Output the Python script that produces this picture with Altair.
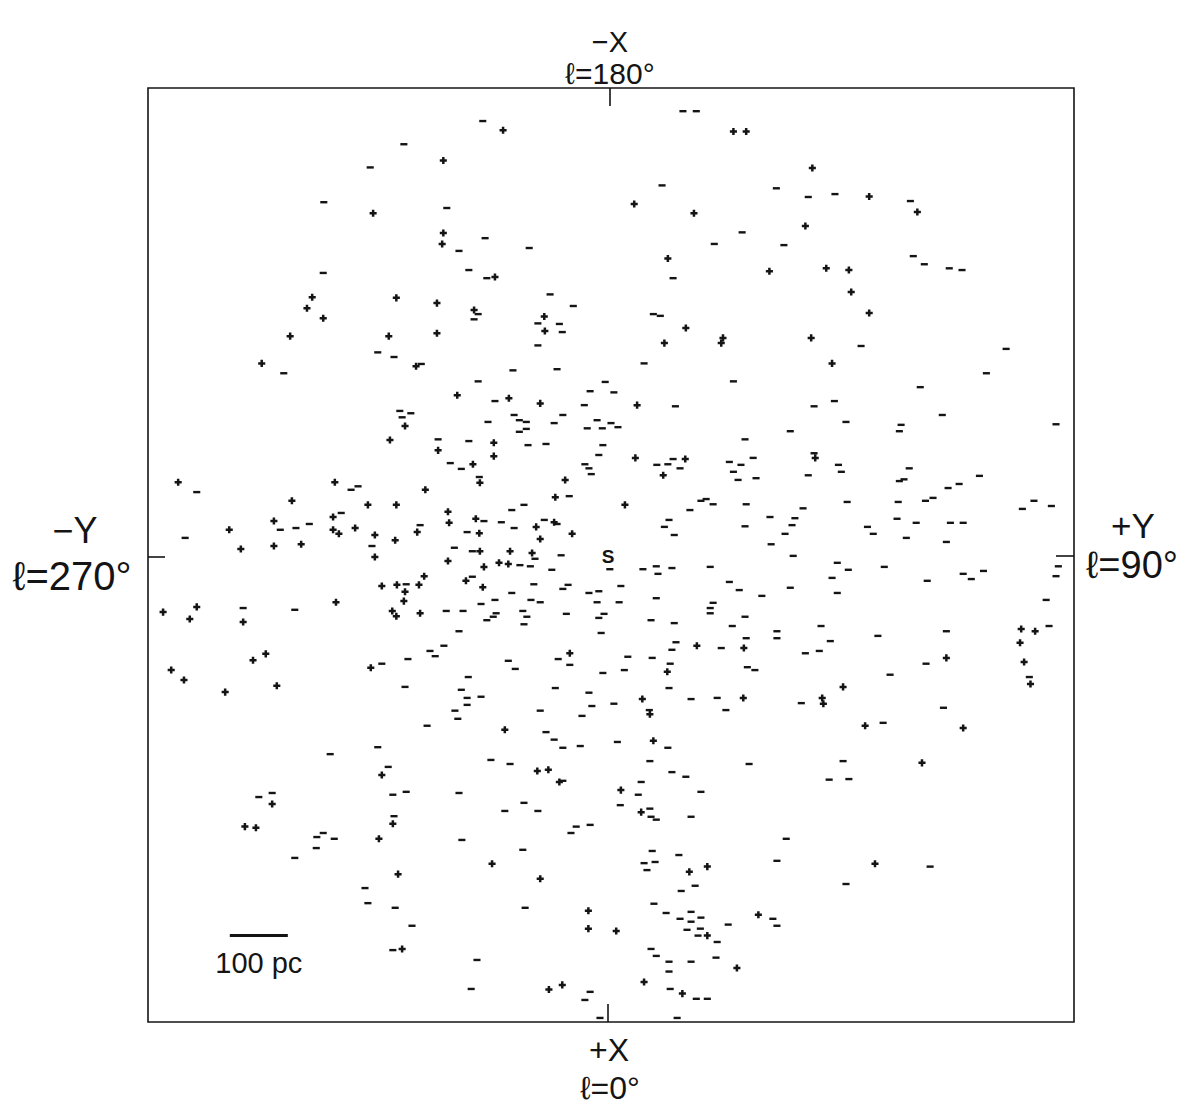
import altair as alt
import pandas as pd

# Positions in the galactic plane, pc (Y horizontal: +Y toward l=90; X vertical: +X toward l=0)
plus_Y = [-405, -510, -519, -491, -548, -597,
          -181, -284, -284, -286, -195, -365, -295, -231, -110, -109, -378, -295, -331, -260, -171,
          216, 238, 352, 45, 148, 340, 103, 278, 376, 134, 97, 198, 195, 350, 386,
          450, 533, 415, 419, 450,
          -741, -545, -471, -414, -474, -576, -474, -464, -436, -402, -653, -633, -576, -529, -402,
          -469, -767, -709, -721, -629, -590, -612, -753, -731, -660, -571, -409,
          -117, -350, -376, -293, -197, -197, -233, -221, -74, -315, -91, -365, -276, -228, -274,
          -329, -222, -93, -124, -62, -117, -367, -221, -169, -131, -276, -188, -172, -214, -317,
          -245, -390, -364, -326, -350, -216, -352, -372, -365, -324, -66,
          50, 47, 133, 95, 357, 29, 153, 234, 102, 59, 233, 369, 371, 405,
          712, 736, 710, 717, 728, 583,
          -579, -626, -607, -395,
          -178, -390, -122, -103, -84, -371, -200, -362, -117, -34, -34, -355, -102, -79,
          72, 78, 22, 57, 140, 171, 259, 171, 14, 222, 62, 128,
          443, 612, 541, 460]
plus_X = [-593, -448, -429, -412, -381, -334,
          -736, -684, -559, -540, -483, -447, -438, -426, -415, -390, -381, -386, -329, -279, -274,
          -734, -734, -671, -609, -593, -571, -515, -493, -498, -395, -369, -378, -369, -378, -334,
          -622, -595, -495, -457, -421,
          -129, -97, -129, -90, -69, -62, -47, -40, -50, -38, -47, -14, -19, -22, 0,
          78, 95, 86, 107, 112, 167, 178, 195, 212, 233, 222, 191,
          -265, -226, -202, -184, -197, -174, -160, -128, -133, -116, -103, -90, -78, -66, -59,
          -43, -41, -60, -52, -40, -31, -29, -10, -10, -7, 7, 10, 12, 17, 33,
          41, 50, 48, 48, 60, 52, 76, 93, 102, 97, 166,
          -262, -171, -169, -141, -171, -90, 153, 157, 198, 245, 243, 243, 253, 224,
          124, 128, 148, 181, 219, 174,
          426, 465, 467, 486,
          298, 376, 369, 367, 388, 460, 529, 547, 555, 610, 641, 676, 746, 738,
          271, 317, 402, 440, 543, 534, 617, 653, 645, 709, 733, 753,
          291, 295, 355, 529]

minus_Y = [-410, -490, -491, -559, -397,
           -216, -352, -278, -212, -136, -257, -240, -209, -100, -60, -224, -231, -121, -84, -79,
           -121, -369, -322, -164, -88, -224, -5, -31,
           129, 152, 93, 290, 345, 391, 231, 183, 303, 112, 78, 90, 62, 216, 10,
           521, 526, 545, 588, 610, 436, 686, 652, 538,
           -709, -443, -431, -460, -565, -538, -515, -729, -407, -540, -629,
           -195, -359, -340, -355, -162, -153, -141, -207, -78, -41, -93, -153, -141, -36, -19, -10, 5,
           -293, -240, -138, -107, -9, -16, -272, -253, -40, -33, -29, -222, -67, -145, -166, -214,
           -184, -324, -243, -162, -110, -88, -265, -234, -126, -81, -152, -134, -97, 3, -234, -348,
           -128, -78, -69, -33, -16, -166, -195, -219, -133, -117, -19, -279, -250, -193, -147, -198,
           -140, -209, -145, -72, -16, -7, -257, -12, -283, -307, -298, -345, -86, -66, -172, -160,
           -390, -9, -241, -350, -91, -253, -33, -243, -219, -243, -28, -117, -264,
           116, 355, 390, 17, 314, 236, 84, 103, 112, 124, 209, 229, 250, 216, 224, 255, 355, 345,
           397, 402, 141, 160, 169, 181, 238, 336, 105, 97, 114, 236, 279, 322, 317, 305, 281, 319,
           395, 60, 83, 86, 110, 176, 209, 226, 265, 314, 386, 395, 22, 19, 83, 181, 176, 176, 236,
           74, 114, 214, 291, 291, 238, 367, 383, 364, 340, 117, 110, 195, 34, 76, 107, 28, 240,
           253, 105, 71, 143, 188, 203, 333, 10,
           576, 410, 505, 502, 772, 519, 510, 502, 640, 605, 586, 560, 547, 500, 412, 714, 734, 764,
           498, 447, 457, 531, 590, 612, 514, 583, 414, 476, 550, 612, 626, 647, 772, 776, 755, 760,
           726, 465, 583, 548, 486, 578,
           -479, -397, -602, -579, -502, -491, -472, -503, -540, -419, -414,
           -312, -259, -45, -107, -93, -78, -48, -379, -202, -169, -78, -371, -348, -257, -145, -178,
           -121, -369, -55, -31, -64, -252, -147, -367, -143, -338, -371, -226, -236, -31, -40, -14,
           16, 103, 72, 243, 110, 134, 57, 381, 405, 52, 160, 21, 72, 74, 83, 143, 307, 76, 122, 291,
           62, 81, 67, 150, 126, 79, 100, 143, 124, 143, 160, 284, 291, 207, 136, 159, 155, 188, 74,
           83, 186, 105, 143, 105, 107, 152, 171, 119,
           474, 415, 555, 410]
minus_X = [-672, -612, -490, -317, -353,
           -752, -712, -602, -550, -533, -528, -495, -481, -453, -433, -419, -410, -403, -402, -388,
           -365, -345, -333, -322, -324, -303, -302, -286,
           -769, -769, -641, -636, -621, -626, -560, -540, -538, -481, -419, -416, -334, -303, -284,
           -614, -519, -505, -498, -495, -364, -359, -317, -293,
           -112, -116, -122, -76, -47, -50, -57, -33, -19, 91, 88,
           -269, -252, -248, -241, -245, -236, -233, -233, -245, -262, -231, -216, -221, -222, -236, -222, -231,
           -203, -200, -193, -195, -193, -176, -162, -152, -160, -153, -143, -138, -105, -90, -81, -62,
           -60, -55, -43, -50, -64, -57, -16, -10, 3, -3, 14, 16, 22, 21, 34, 47,
           47, 55, 48, 62, 59, 62, 74, 81, 74, 78, 78, 93, 93, 97, 93, 103,
           103, 109, 116, 98, 105, 98, 128, 131, 153, 162, 171, 176, 176, 186, 179, 193,
           184, 200, 207, 224, 226, 229, 234, 243, 241, 255, 257, 265, 265,
           -260, -260, -269, -224, -217, -203, -159, -160, -169, -153, -164, -159, -171, -147, -133, -136, -179, -141,
           -159, -147, -81, -97, -100, -91, -91, -84, -64, -52, -38, -53, -69, -67, -55, -40, -22, -2,
           10, 21, 16, 29, 19, 17, 43, 57, 67, 53, 36, 62, 50, 78, 71, 79, 88, 97, 103,
           109, 114, 119, 128, 140, 140, 119, 145, 162, 166, 147, 160, 157, 172, 174, 184, 195, 190,
           195, 226, 264, 245, 243, 264, 252, 253,
           -245, -233, -228, -217, -229, -153, -134, -131, -140, -126, -119, -102, -97, -95, -95, -83, -97, -88,
           -66, -52, -40, -59, -59, -59, -33, -26, 22, 17, 41, 29, 38, 24, 33, 16, 74, 119,
           207, 136, 128, 184, 203, 260,
           340, 328, 414, 407, 483, 476, 486, 502, 519, 571, 597,
           291, 279, 274, 302, 315, 329, 326, 362, 350, 357, 386, 410, 405, 407, 424, 438,
           438, 447, 465, 462, 476, 488, 505, 605, 605, 636, 678, 695, 745, 750, 764, 795,
           319, 329, 352, 357, 371, 379, 388, 384, 352, 410, 405, 428, 434, 448, 453, 448, 486, 507, 514, 524,
           528, 526, 540, 567, 576, 598, 614, 612, 624, 629, 622, 624, 636, 634, 643, 641, 653, 664, 676,
           688, 691, 698, 698, 715, 745, 762, 762, 795,
           286, 383, 534, 564]

sun_label = ["S"]
scale_bar_start = [-652]
scale_bar_len_pc = 100
scale_bar_at_X = [653]
scale_bar_text = ["100 pc"]

INK = "#141414"
FONT = "Liberation Sans, DejaVu Sans"

plus_df = pd.DataFrame({"Y": plus_Y, "X": plus_X})
minus_df = pd.DataFrame({"Y": minus_Y, "X": minus_X})

xs = alt.Scale(domain=[-793, 803], nice=False, zero=False)
ys = alt.Scale(domain=[-809, 802], nice=False, zero=False, reverse=True)


def enc(ch):
    return ch.encode(x=alt.X("Y:Q", scale=xs, axis=None),
                     y=alt.Y("X:Q", scale=ys, axis=None))


plus = enc(alt.Chart(plus_df).mark_point(shape="M-1,0L1,0M0,-1L0,1", filled=False,
                                         stroke=INK, strokeWidth=2.5, size=50, opacity=1))
minus = enc(alt.Chart(minus_df).mark_point(shape="M-1,0L1,0", filled=False,
                                           stroke=INK, strokeWidth=2.4, size=50, opacity=1))

sun = alt.Chart(pd.DataFrame({"Y": [0], "X": [0], "t": sun_label})).mark_text(
    font=FONT, fontSize=19, fontWeight="bold", color=INK, baseline="middle", align="center"
).encode(x=alt.X("Y:Q", scale=xs, axis=None), y=alt.Y("X:Q", scale=ys, axis=None), text="t:N")

bar_df = pd.DataFrame({"Y": scale_bar_start, "Y2": [scale_bar_start[0] + scale_bar_len_pc],
                       "X": scale_bar_at_X, "t": scale_bar_text,
                       "Ym": [scale_bar_start[0] + scale_bar_len_pc / 2]})
bar = alt.Chart(bar_df).mark_rule(color=INK, strokeWidth=3).encode(
    x=alt.X("Y:Q", scale=xs, axis=None), x2="Y2:Q", y=alt.Y("X:Q", scale=ys, axis=None))
bar_txt = alt.Chart(bar_df).mark_text(font=FONT, fontSize=29, color=INK, align="center",
                                      baseline="alphabetic", dy=37).encode(
    x=alt.X("Ym:Q", scale=xs, axis=None), y=alt.Y("X:Q", scale=ys, axis=None), text="t:N")

# frame ticks at the mid-points of each side (pixel offsets in the plot area)
W, H = 926, 934
ticks = [
    (462, 462, 0, 18),
    (460, 460, H - 18, H),
    (0, 17, 469, 469),
    (W - 18, W, 468, 468),
]
tick_layers = [
    alt.Chart(pd.DataFrame({"a": [0]})).mark_rule(color=INK, strokeWidth=1.6).encode(
        x=alt.value(x1), x2=alt.value(x2), y=alt.value(y1), y2=alt.value(y2))
    for (x1, x2, y1, y2) in ticks
]

labels = [
    ("−X", 462, -36, 29),
    ("ℓ=180°", 462, -4, 30),
    ("−Y", -73, 455, 36),
    ("ℓ=270°", -76, 502, 40),
    ("+Y", 985, 450, 35),
    ("ℓ=90°", 984, 490, 38),
    ("+X", 461, 973, 32),
    ("ℓ=0°", 462, 1011, 32),
]
label_layers = [
    alt.Chart(pd.DataFrame({"t": [t]})).mark_text(
        font=FONT, fontSize=fs, color=INK, align="center", baseline="alphabetic"
    ).encode(x=alt.value(px), y=alt.value(py), text="t:N")
    for (t, px, py, fs) in labels
]

chart = alt.layer(plus, minus, sun, bar, bar_txt, *tick_layers, *label_layers).properties(
    width=W, height=H,
    padding={"left": 140, "top": 80, "right": 110, "bottom": 85},
    autosize=alt.AutoSizeParams(type="none"),
    background="white",
).configure_view(stroke=INK, strokeWidth=1.6)

chart.save("out.html", embed_options={"renderer": "svg", "actions": False})
